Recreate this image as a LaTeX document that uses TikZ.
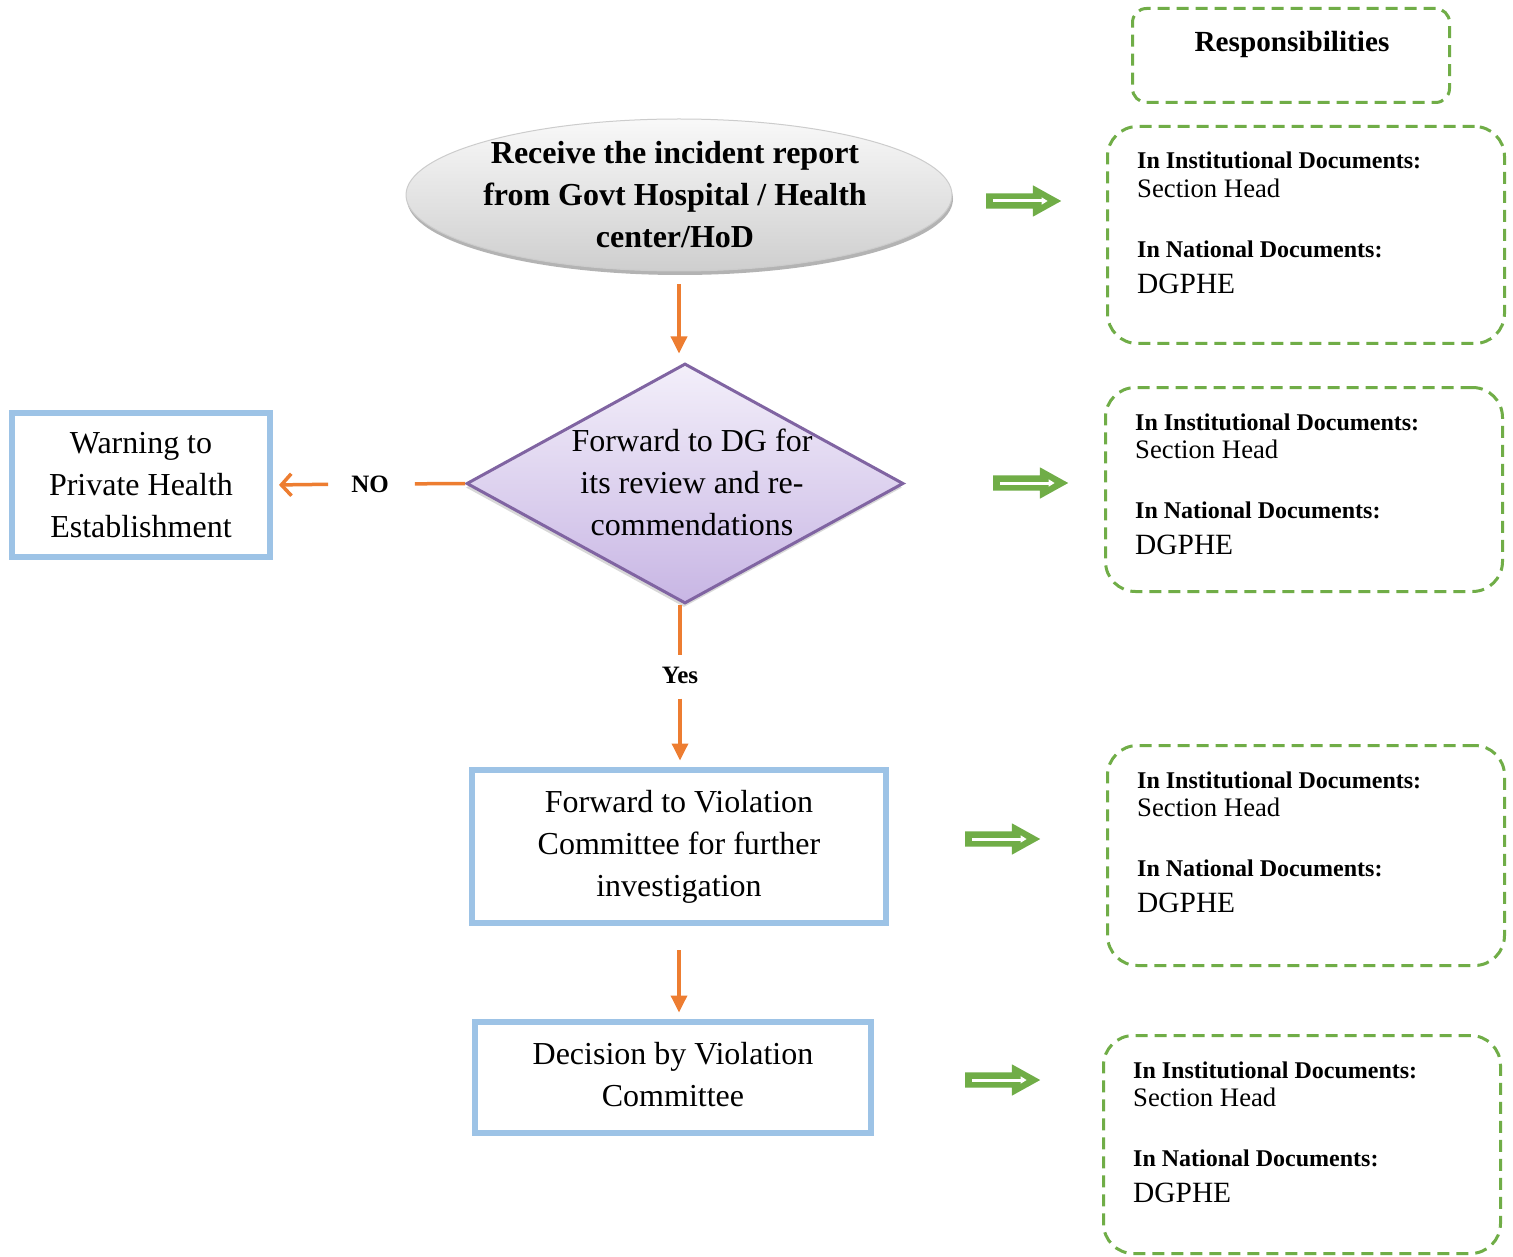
\documentclass[tikz,border=0pt]{standalone}
\usepackage{fontspec}
\setmainfont{Liberation Serif}
\usetikzlibrary{arrows.meta,shapes.geometric,shapes.arrows,shadows,calc}
\definecolor{oarr}{RGB}{237,125,49}
\definecolor{bbox}{RGB}{157,195,230}
\definecolor{gbox}{RGB}{112,173,71}
\definecolor{pbord}{RGB}{128,100,162}
\definecolor{ptop}{RGB}{243,239,250}
\definecolor{pbot}{RGB}{200,182,228}
\tikzset{
 big/.style={font=\fontsize{32}{42}\selectfont, align=center},
 bigbf/.style={font=\bfseries\fontsize{32}{42}\selectfont, align=center},
 flowbox/.style={draw=bbox, line width=6pt, rectangle, inner sep=0pt, big},
 respbox/.style={draw=gbox, line width=3pt, dash pattern=on 12pt off 7pt, rounded corners=30pt, rectangle, inner sep=0pt},
 oline/.style={draw=oarr, line width=3.5pt},
 oarrow/.style={oline, -{Triangle[length=17pt,width=16pt]}},
 obarb/.style={oline, -{Straight Barb[length=10pt,width=22pt]}},
 garrow/.style={single arrow, fill=gbox, draw=none, minimum height=75pt, minimum width=31pt, single arrow head extend=8pt, single arrow tip angle=58, inner sep=7.5pt, anchor=tail},
 ginner/.style={white, line width=3pt, -{Triangle[length=6pt,width=7pt]}},
 lbl/.style={font=\bfseries\fontsize{25}{30}\selectfont, inner sep=0pt},
 rhead/.style={anchor=base west, inner sep=0pt, font=\bfseries\fontsize{24}{28}\selectfont},
 rbody/.style={anchor=base west, inner sep=0pt, font=\fontsize{26.7}{30}\selectfont},
 rname/.style={anchor=base west, inner sep=0pt, font=\fontsize{29.4}{33}\selectfont},
}
\newcommand\respgroup[4]{%
 \node[respbox, minimum width=397pt, minimum height=#4pt] (#1) at (#2,#3) {};
 \node[rhead] (#1a) at ([shift={(31,44)}]#1.north west) {In Institutional Documents:};
 \node[rbody] (#1b) at ([shift={(31,72.5)}]#1.north west) {Section Head};
 \node[rhead] (#1c) at ([shift={(31,132.5)}]#1.north west) {In National Documents:};
 \node[rname] (#1d) at ([shift={(31,168.5)}]#1.north west) {DGPHE};
}
\begin{document}
\begin{tikzpicture}[x=1pt,y=-1pt]
\useasboundingbox[fill=white] (0,0) rectangle (1513,1257);

% start ellipse
\node[ellipse, minimum width=546pt, minimum height=152pt, inner sep=0pt, draw=gray!40, line width=1pt,
  top color=gray!5, bottom color=gray!38,
  drop shadow={shadow xshift=1pt, shadow yshift=-4pt, fill=gray!85, opacity=0.7}] (ell) at (679,195) {};
\node[bigbf] (ellt) at (675,195) {Receive the incident report\\from Govt Hospital / Health\\center/HoD};

% decision diamond
\node[diamond, minimum width=437pt, minimum height=240pt, inner sep=0pt, draw=pbord, line width=3pt,
  top color=ptop, bottom color=pbot,
  drop shadow={shadow xshift=-1pt, shadow yshift=-4pt, opacity=0.3}] (dg) at (685,483.5) {};
\node[big] (dgt) at (692,482.5) {Forward to DG for\\its review and re-\\commendations};

% boxes
\node[flowbox, minimum width=258pt, minimum height=144pt] (warn) at (141,485) {Warning to\\Private Health\\Establishment};
\node[flowbox, minimum width=414pt, minimum height=153pt] (viol) at (679,846.5) {Forward to Violation\\Committee for further\\investigation};
\node[flowbox, minimum width=396pt, minimum height=111pt] (dec) at (673,1077.5) {\raisebox{2pt}{\begin{tabular}{@{}c@{}}Decision by Violation\\Committee\end{tabular}}};

% labels
\node[lbl] (no) at (370,484) {NO};
\node[lbl] (yes) at (680,675) {Yes};

% connectors
\draw[oarrow, shorten <=13pt, shorten >=8.5pt] (ell.south) -- (ell.south |- dg.north);
\draw[oline, shorten >=26pt] (dg.west) -- (no.east);
\draw[obarb, shorten <=23pt, shorten >=6pt] (no.west) -- (warn.east);
\draw[oline, shorten >=11.5pt] (yes |- dg.south) -- (yes.north);
\draw[oarrow, shorten <=15pt, shorten >=6.5pt] (yes.south) -- (yes |- viol.north);
\draw[oarrow, shorten <=24pt, shorten >=6.5pt] (viol.south) -- (viol.south |- dec.north);

% green arrows
\node[garrow] (g1) at (986,201) {};
\draw[ginner] ([xshift=7pt]g1.tail) -- ([xshift=-14pt]g1.tip);
\node[garrow] (g2) at (993,483) {};
\draw[ginner] ([xshift=7pt]g2.tail) -- ([xshift=-14pt]g2.tip);
\node[garrow] (g3) at (965,839) {};
\draw[ginner] ([xshift=7pt]g3.tail) -- ([xshift=-14pt]g3.tip);
\node[garrow] (g4) at (965,1080) {};
\draw[ginner] ([xshift=7pt]g4.tail) -- ([xshift=-14pt]g4.tip);

% responsibilities
\node[respbox, rounded corners=14pt, minimum width=317pt, minimum height=94pt] (rt) at (1291,55.5) {};
\node[font=\bfseries\fontsize{29.2}{34}\selectfont, anchor=base, inner sep=0pt] (rtt) at (1292,52) {Responsibilities};
\respgroup{ra}{1306}{235}{217}
\respgroup{rb}{1304}{489.5}{204}
\respgroup{rc}{1306}{855.5}{220}
\respgroup{rd}{1302}{1144.5}{218}
\end{tikzpicture}
\end{document}
